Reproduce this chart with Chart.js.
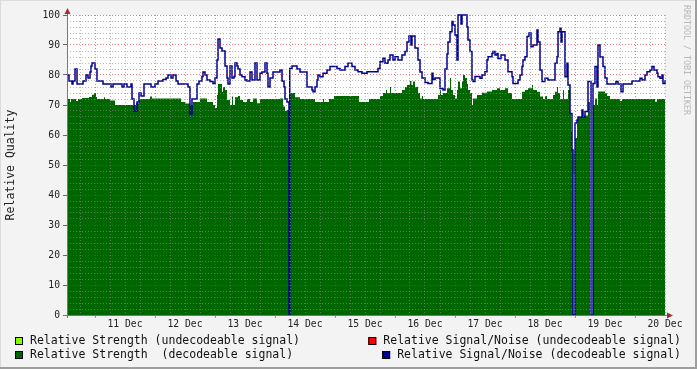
<!DOCTYPE html>
<html>
<head>
<meta charset="utf-8">
<script src="https://cdn.jsdelivr.net/npm/chart.js@4.4.1/dist/chart.umd.min.js"></script>
<style>
  html, body { margin: 0; padding: 0; background: #f3f3f3; }
  #wrap { width: 697px; height: 369px; }
</style>
</head>
<body>
<div id="wrap"><canvas id="qualityChart"></canvas></div>
<script>
// time = hours since 10 Dec 00:00, each value holds until the next change
const snHours = [12.8,13.6,14.8,15.2,16.0,16.8,19.2,20.4,21.2,22.0,
    22.4,22.8,24.0,24.8,27.2,30.4,31.2,34.8,35.6,36.8,
    38.4,38.8,39.6,40.8,41.6,42.4,43.6,46.4,48.0,49.2,
    51.2,52.4,53.2,54.4,55.2,56.4,57.2,61.2,62.0,62.8,
    64.8,65.6,66.8,67.2,68.0,68.8,70.0,71.2,72.0,72.8,
    73.2,74.0,74.8,76.0,76.8,77.2,78.0,78.8,79.6,80.0,
    80.8,81.2,82.0,82.8,84.0,84.8,86.0,86.8,88.0,88.8,
    90.0,90.8,92.0,92.8,93.2,94.0,95.2,98.0,98.8,99.6,
    100.0,100.8,101.6,101.9,102.8,104.8,106.0,108.8,110.8,111.2,
    112.0,112.8,113.2,114.0,115.2,116.8,118.0,120.8,122.0,124.0,
    125.2,126.8,128.0,129.2,130.8,132.8,137.2,138.0,139.2,140.0,
    141.2,142.0,143.2,144.0,145.2,146.8,148.0,148.8,149.6,150.4,
    150.8,152.0,153.2,154.0,154.8,156.0,157.2,158.8,159.2,160.0,
    162.0,163.2,164.0,164.8,165.2,166.0,166.8,167.2,168.0,168.8,
    169.2,170.4,170.8,172.8,173.2,174.0,174.8,175.2,176.0,178.0,
    178.8,180.0,180.8,181.2,182.8,183.2,184.0,184.8,185.2,186.4,
    188.0,189.2,190.8,191.2,193.2,194.0,194.8,195.2,196.0,196.8,
    197.6,198.4,199.2,200.8,201.2,202.0,202.8,204.0,205.2,208.0,
    208.8,209.2,210.0,210.4,210.8,212.0,212.8,213.2,214.0,214.8,
    215.2,216.0,216.8,217.2,218.8,219.2,220.0,221.2,222.4,223.2,
    224.0,224.8,225.2,226.0,227.2,228.0,228.8,232.4,233.2,234.4,
    235.2,238.8,242.0,242.8,244.0,244.8,246.0,246.8,247.6,248.8,
    249.2,250.0,250.8,251.2,252.0];
const snValues = [80,78,77,78,82,77,78,80,79,81,
    83,84,82,78,77,76,77,76,77,76,
    77,72,68,71,74,73,77,76,77,78,
    78.5,79,80,79,80,78,77,76,67,72,
    77,78,79.5,81,80,78.3,77.8,77.2,79,85,
    92,89,88,83,79,77,83,79,79.5,84,
    83,82,80,79.4,78.3,78,81,78.3,84,78.3,
    80.6,81,84,80.6,76,79,81,81.7,78,76,
    72,71,0,82.2,83,82,81,76,75,74.4,
    76,78.3,80,79.4,80.6,81.7,82.8,82.2,81.7,82.8,
    83.9,82.8,81.7,81.1,80.6,81.1,82.2,84.4,85.6,83.9,
    85,86.7,85,86.1,85,86.7,87.8,91,93,90,
    93,89,85,81,79,77.5,77.2,80.6,78.5,79,
    75.5,75,82,87,91,94.4,97.8,96.7,93.3,85,
    100,97,100,96,91.7,87.8,78.3,77.8,79.5,78.9,
    80,81.1,85,86.1,87.2,87.8,86.7,87.2,85.5,86.7,
    85,81.1,79.4,77.2,78.3,80,82.8,85,86.1,92.8,
    94,89.4,90,95,91,81.7,77.8,78.9,78.3,83.9,
    86.1,94.4,95.6,91,94.4,79.4,83.9,76.7,67.2,55,
    0,64,65,66,68.3,66,67.8,77.8,0,77.2,
    82.8,76,90,86,82.8,79,77,77.8,77,74.4,
    77,78,78.9,78.3,80,81.1,81.7,82.8,81.7,80.6,
    79.4,78.9,80,77.2,78.3];

const strengthHours = [12.8,14.0,14.4,16.4,17.2,18.8,21.6,22.8,23.6,24.4,
    24.8,27.6,28.0,30.0,32.0,40.4,41.6,46.0,46.8,58.4,
    60.0,62.0,63.2,66.0,68.8,71.2,72.0,72.8,73.2,74.8,
    75.2,76.0,76.8,78.0,78.8,79.2,80.0,81.2,82.0,83.2,
    84.8,86.0,87.2,88.8,90.0,98.0,99.2,100.0,100.8,102.0,
    104.0,106.0,112.0,115.2,115.6,117.6,119.6,129.6,133.6,138.0,
    139.2,140.4,140.8,142.0,142.4,146.8,148.0,148.8,150.0,150.6,
    151.2,152.0,153.2,154.0,154.8,155.2,161.2,162.0,162.4,163.2,
    164.8,166.0,166.4,167.2,168.0,168.8,169.2,170.0,170.8,171.2,
    172.0,172.8,173.2,174.0,174.8,175.2,176.8,178.8,180.8,182.8,
    184.8,186.0,188.0,189.2,190.8,194.8,196.0,197.2,198.8,199.2,
    200.8,202.0,203.2,204.0,204.8,207.2,208.0,208.8,209.2,210.0,
    211.2,211.6,213.2,214.0,214.4,214.8,215.2,216.0,216.8,217.2,
    218.8,221.2,222.0,223.2,224.0,224.8,225.2,228.0,228.8,230.0,
    234.0,234.8,248.0,248.8,252.0];
const strengthValues = [72,71,72,71.3,72,72.3,72.7,73.4,74,72.7,
    72,72.6,72,71.5,70,70.6,72,72.8,72.2,71,
    70.5,70,71,72.2,71,70,69,73.3,77,74.4,
    76,75,71.7,70,72.8,70,72.6,73,71.7,71,
    72,71,72.2,70.6,72,72.2,69.5,68,68.3,74,
    72.6,72,71,72,71,72,73,71,72,73,
    74,75,74,76,74,75,76,76.7,78,76.7,
    77.8,76,74,72.2,73,72,73.3,75,73.3,74,
    75.6,79,75,73.3,72.2,75,77.8,75.6,77.8,80,
    79,77,75,74,70,72.2,73.3,74.1,74.5,75,
    75.6,75,75.6,74,72,74.4,75,75.6,76.7,75,
    74.4,72.8,72,73,72,73.3,74.4,76,74,72,
    75,72,75,67,61,55,0,59,65,66,
    66.5,71,0,70,72.2,70,74.5,73.9,73,72,
    71.3,72,71.1,72,72];

const weakStrengthHours = [215.2, 216.0];
const weakStrengthValues = [54, 54];
const weakSnHours = [];
const weakSnValues = [];

const dayLabels = ['11 Dec','12 Dec','13 Dec','14 Dec','15 Dec','16 Dec','17 Dec','18 Dec','19 Dec','20 Dec'];

const MONO = 'DejaVu Sans Mono';
const GREEN = '#006600';
const LIGHT_GREEN = '#80ff00';
const RED = '#ff0000';
const BLUE = '#000090';
const MINOR_GRID = 'rgba(140,140,140,0.6)';
const MAJOR_GRID = 'rgba(220,40,40,0.6)';

function points(hours, values) {
    return hours.map((h, i) => ({ x: h, y: values[i] }));
}

const rrdLook = {
    id: 'rrdLook',
    beforeDraw(chart) {
        const ctx = chart.ctx;
        const a = chart.chartArea;
        ctx.save();
        ctx.fillStyle = '#f3f3f3';
        ctx.fillRect(0, 0, chart.width, chart.height);
        ctx.fillStyle = '#ffffff';
        ctx.fillRect(a.left, a.top, a.right - a.left, a.bottom - a.top);
        ctx.restore();
    },
    afterDraw(chart) {
        const ctx = chart.ctx;
        const a = chart.chartArea;
        ctx.save();

        // axes with arrows
        ctx.strokeStyle = '#777';
        ctx.lineWidth = 1;
        ctx.beginPath();
        ctx.moveTo(a.left + 0.5, a.top - 3);
        ctx.lineTo(a.left + 0.5, a.bottom + 3);
        ctx.moveTo(a.left - 3, a.bottom + 0.5);
        ctx.lineTo(a.right + 4, a.bottom + 0.5);
        ctx.stroke();
        ctx.fillStyle = '#a03030';
        ctx.beginPath();
        ctx.moveTo(a.left + 0.5, a.top - 7);
        ctx.lineTo(a.left - 2.5, a.top - 1);
        ctx.lineTo(a.left + 3.5, a.top - 1);
        ctx.closePath();
        ctx.fill();
        ctx.beginPath();
        ctx.moveTo(a.right + 8, a.bottom + 0.5);
        ctx.lineTo(a.right + 2, a.bottom - 2.5);
        ctx.lineTo(a.right + 2, a.bottom + 3.5);
        ctx.closePath();
        ctx.fill();

        // legend, two rows, right column right-aligned
        const ds = chart.data.datasets;
        const rows = [341, 355];
        ctx.font = '11.5px "' + MONO + '"';
        ctx.textBaseline = 'middle';
        const left = [ds[2], ds[1]];
        const right = [ds[3], ds[0]];
        left.forEach((d, i) => {
            const y = rows[i];
            ctx.fillStyle = d.legendColor;
            ctx.fillRect(15, y - 4, 8, 8);
            ctx.strokeStyle = '#000';
            ctx.strokeRect(15.5, y - 3.5, 7, 7);
            ctx.fillStyle = '#111';
            ctx.textAlign = 'left';
            ctx.fillText(d.label, 30, y);
        });
        right.forEach((d, i) => {
            const y = rows[i];
            const w = ctx.measureText(d.label).width;
            const x0 = 681 - w;
            ctx.fillStyle = d.legendColor;
            ctx.fillRect(x0 - 15, y - 4, 8, 8);
            ctx.strokeStyle = '#000';
            ctx.strokeRect(x0 - 14.5, y - 3.5, 7, 7);
            ctx.fillStyle = '#111';
            ctx.textAlign = 'left';
            ctx.fillText(d.label, x0, y);
        });

        // watermark
        ctx.save();
        ctx.translate(686, 5);
        ctx.rotate(Math.PI / 2);
        ctx.font = '8.3px "' + MONO + '"';
        ctx.fillStyle = '#b8b8b8';
        ctx.textAlign = 'left';
        ctx.textBaseline = 'middle';
        ctx.fillText('RRDTOOL / TOBI OETIKER', 0, 0);
        ctx.restore();

        // frame
        ctx.fillStyle = '#dcdcdc';
        ctx.fillRect(0, 0, chart.width, 1);
        ctx.fillRect(0, 0, 1, chart.height);
        ctx.fillStyle = '#9e9e9e';
        ctx.fillRect(0, chart.height - 2, chart.width, 2);
        ctx.fillRect(chart.width - 2, 0, 2, chart.height);
        ctx.restore();
    }
};

new Chart(document.getElementById('qualityChart'), {
    type: 'line',
    data: {
        datasets: [
            {
                label: 'Relative Signal/Noise (decodeable signal)',
                data: points(snHours, snValues),
                borderColor: BLUE,
                borderWidth: 1.5,
                stepped: true,
                fill: false,
                pointRadius: 0,
                clip: 4,
                order: 0,
                legendColor: BLUE
            },
            {
                label: 'Relative Strength  (decodeable signal)',
                data: points(strengthHours, strengthValues),
                borderWidth: 0,
                backgroundColor: GREEN,
                stepped: true,
                fill: 'origin',
                pointRadius: 0,
                order: 3,
                legendColor: GREEN
            },
            {
                label: 'Relative Strength (undecodeable signal)',
                data: points(weakStrengthHours, weakStrengthValues),
                borderWidth: 0,
                backgroundColor: LIGHT_GREEN,
                stepped: true,
                fill: { value: 47 },
                pointRadius: 0,
                order: 2,
                legendColor: LIGHT_GREEN
            },
            {
                label: 'Relative Signal/Noise (undecodeable signal)',
                data: points(weakSnHours, weakSnValues),
                borderColor: RED,
                borderWidth: 1.5,
                stepped: true,
                fill: false,
                pointRadius: 0,
                order: 1,
                legendColor: RED
            }
        ]
    },
    options: {
        responsive: true,
        maintainAspectRatio: false,
        animation: false,
        layout: { padding: { left: 0, right: 32, top: 15, bottom: 32 } },
        plugins: {
            legend: { display: false },
            tooltip: { enabled: false }
        },
        scales: {
            x: {
                type: 'linear',
                min: 12.8,
                max: 252,
                afterBuildTicks: (scale) => {
                    const t = [];
                    for (let h = 18; h <= 252; h += 6) t.push({ value: h });
                    scale.ticks = t;
                },
                afterFit: (scale) => { scale.height = 22; },
                border: { display: false, dash: [1, 2] },
                grid: {
                    z: 1,
                    color: (c) => c.tick && c.tick.value % 24 === 0 ? MAJOR_GRID : MINOR_GRID,
                    tickColor: (c) => c.tick && c.tick.value % 24 === 0 ? MAJOR_GRID : 'transparent',
                    tickLength: 3,
                    lineWidth: 1
                },
                ticks: {
                    autoSkip: false,
                    maxRotation: 0,
                    padding: 1,
                    color: '#222',
                    font: { family: MONO, size: 9.7 },
                    callback: (v) => v % 24 === 12 ? dayLabels[(v - 36) / 24] : ''
                }
            },
            y: {
                type: 'linear',
                min: 0,
                max: 100,
                afterBuildTicks: (scale) => {
                    const t = [];
                    for (let v = 0; v <= 100; v += 2) t.push({ value: v });
                    scale.ticks = t;
                },
                afterFit: (scale) => { scale.width = 67; },
                border: { display: false, dash: [1, 2] },
                grid: {
                    z: 1,
                    color: (c) => c.tick && c.tick.value % 10 === 0 ? MAJOR_GRID : MINOR_GRID,
                    tickColor: (c) => c.tick && c.tick.value % 10 === 0 ? '#666' : 'transparent',
                    tickLength: 4,
                    lineWidth: 1
                },
                title: {
                    display: true,
                    text: 'Relative Quality',
                    color: '#222',
                    font: { family: MONO, size: 11.5 },
                    padding: { top: 4, bottom: 4 }
                },
                ticks: {
                    autoSkip: false,
                    padding: 3,
                    color: '#222',
                    font: { family: MONO, size: 9.7 },
                    callback: (v) => v % 10 === 0 ? String(v) : ''
                }
            }
        }
    },
    plugins: [rrdLook]
});
</script>
</body>
</html>
